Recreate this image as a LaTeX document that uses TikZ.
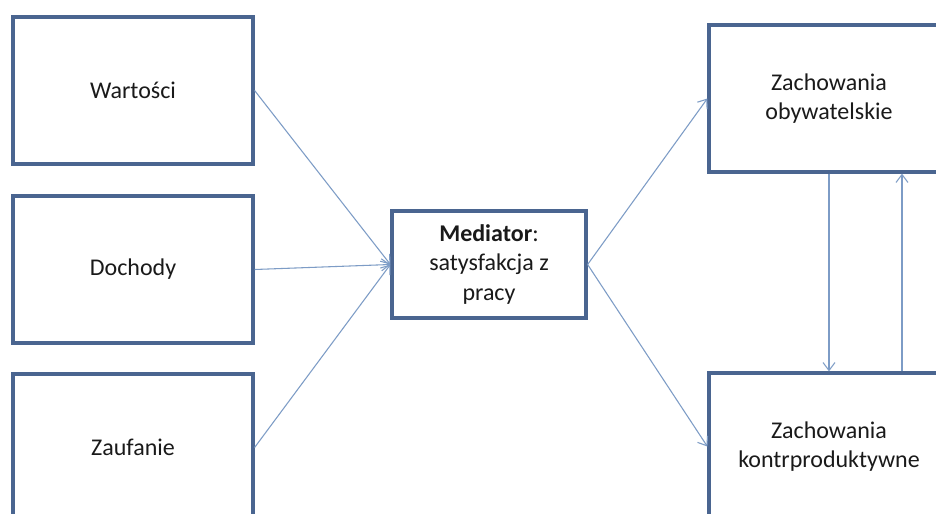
\documentclass[tikz,border=0pt]{standalone}
\usepackage{fontspec}
\setmainfont{Carlito}
\usetikzlibrary{arrows.meta,calc}
\definecolor{boxline}{HTML}{4A6590}
\definecolor{arrline}{HTML}{7D9CC6}
\definecolor{txt}{HTML}{1A1A1A}
\tikzset{
  blk/.style={draw=boxline, line width=2.4pt, fill=white, minimum width=180pt, minimum height=110.25pt, inner sep=0pt, align=center, font=\fontsize{18}{22}\selectfont, text=txt},
  medbox/.style={draw=boxline, line width=2.4pt, fill=white, minimum width=145.5pt, minimum height=80.25pt, inner sep=0pt, align=center, font=\fontsize{18}{22}\selectfont, text=txt},
  arr/.style={draw=arrline, line width=0.8pt, -{Straight Barb[length=6pt,width=9pt]}}
}
\begin{document}
\begin{tikzpicture}[x=0.75pt,y=-0.75pt]
\useasboundingbox (0,0) rectangle (936,514);
\clip (0,0) rectangle (936,514);
\fill[white] (0,0) rectangle (936,514);
\node[blk] (b1) at (133,90.5) {Wartości};
\node[blk] (b2) at (133,269.5) {Dochody};
\node[blk] (b3) at (133,447.5) {Zaufanie};
\node[medbox] (m) at (489,264.5) {\textbf{Mediator}:\\satysfakcja z\\pracy};
\node[blk] (rt) at (829,98.5) {Zachowania\\obywatelskie};
\node[blk] (rb) at (829,446.5) {Zachowania\\kontrproduktywne};
\draw[arr] (b1.east) -- (m.west);
\draw[arr] (b2.east) -- (m.west);
\draw[arr] (b3.east) -- (m.west);
\draw[arr] (m.east) -- (rt.west);
\draw[arr] (m.east) -- (rb.west);
\coordinate (u1) at ($(rb.north)+(73,0)$);
\coordinate (u2) at ($(rt.south)+(73,0)$);
\draw[arr] (rt.south) -- (rb.north);
\draw[arr] (u1) -- (u2);
\end{tikzpicture}
\end{document}
